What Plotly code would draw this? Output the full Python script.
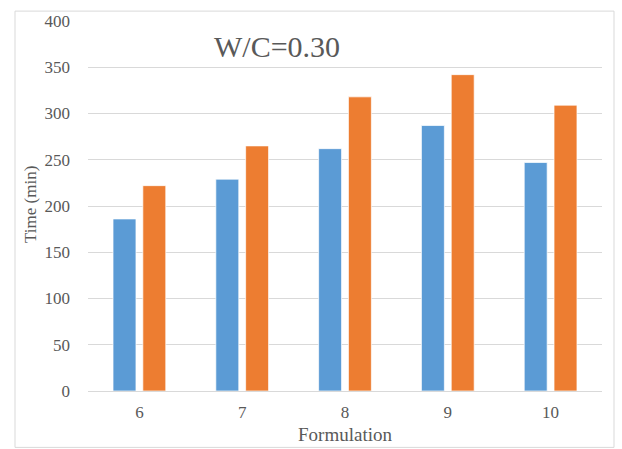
import plotly.graph_objects as go

# Setting time (min) per formulation at W/C = 0.30
formulations = ["6", "7", "8", "9", "10"]
series_blue = [186, 229, 262, 287, 247]
series_orange = [222, 265, 318, 342, 309]
y_ticks = [0, 50, 100, 150, 200, 250, 300, 350, 400]

BLUE = "#5B9BD5"
ORANGE = "#ED7D31"
TEXT = "#595959"
GRID = "#D9D9D9"
FONT = "Liberation Serif"

W, H = 622, 449
L, R, T, B = 88, 20, 17, 58
pw, ph = W - L - R, H - T - B


def px_x(x):
    return (x - L) / pw


def px_y(y):
    return (H - B - y) / ph


fig = go.Figure()
fig.add_trace(go.Bar(
    x=formulations, y=series_blue, marker_color=BLUE,
    marker_line=dict(color="rgba(255,255,255,0.7)", width=1),
))
fig.add_trace(go.Bar(
    x=formulations, y=series_orange, marker_color=ORANGE,
    marker_line=dict(color="rgba(255,255,255,0.7)", width=1),
))

fig.update_layout(
    width=W, height=H,
    margin=dict(l=L, r=R, t=T, b=B),
    paper_bgcolor="white", plot_bgcolor="white",
    showlegend=False,
    barmode="group", bargap=0.42, bargroupgap=0.23,
    font=dict(family=FONT, color=TEXT, size=17),
)
fig.update_xaxes(
    type="category", showgrid=False, showline=True, linecolor=GRID, linewidth=1,
    ticks="", tickfont=dict(family=FONT, size=17, color=TEXT), ticklabelstandoff=6,
)
fig.update_yaxes(
    range=[0, 400], tickvals=y_ticks, showgrid=True, gridcolor=GRID, gridwidth=1,
    zeroline=False, showline=False, ticks="",
    tickfont=dict(family=FONT, size=17, color=TEXT), ticklabelstandoff=17,
)

fig.add_annotation(
    text="W/C=0.30", xref="paper", yref="paper",
    x=px_x(277), y=px_y(43), xanchor="center", yanchor="middle", showarrow=False,
    font=dict(size=30, family=FONT, color=TEXT),
)
fig.add_annotation(
    text="Time (min)", xref="paper", yref="paper",
    x=px_x(30), y=px_y(203), xanchor="center", yanchor="middle",
    textangle=-90, showarrow=False,
    font=dict(size=17, family=FONT, color=TEXT),
)
fig.add_annotation(
    text="Formulation", xref="paper", yref="paper",
    x=0.5, y=px_y(435), xanchor="center", yanchor="middle", showarrow=False,
    font=dict(size=19, family=FONT, color=TEXT),
)

# outer chart frame
fig.add_shape(
    type="rect", xref="paper", yref="paper",
    x0=px_x(15), x1=px_x(614), y0=px_y(448), y1=px_y(7),
    line=dict(color="#D9D9D9", width=1), layer="below",
)

fig.write_html("out.html")
